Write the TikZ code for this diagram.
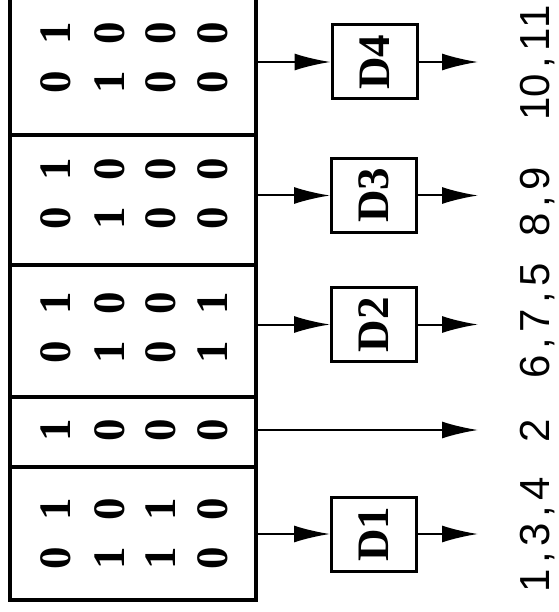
\documentclass[tikz,border=0pt]{standalone}
\usepackage{fontspec}
\usepackage{graphicx}
\setmainfont{Liberation Serif}
\newfontfamily\lblfont{Liberation Sans}
\usetikzlibrary{arrows.meta}
\begin{document}
\begin{tikzpicture}[x=1pt,y=-1pt,
 sect/.style={draw, line width=3.2pt, minimum width=246pt, inner sep=0pt},
 dbox/.style={draw, line width=3pt, minimum width=85pt, minimum height=74pt, inner sep=0pt, font=\bfseries\fontsize{45}{50}\selectfont},
 digits/.style={rotate=90, inner sep=0pt, font=\bfseries\fontsize{45}{50}\selectfont},
 lbl/.style={rotate=90, anchor=base, inner sep=0pt, font=\lblfont\fontsize{42}{46}\selectfont},
 arr/.style={line width=2pt, -{Latex[length=36pt,width=17pt]}}]
\useasboundingbox (0,0) rectangle (558,612);
\clip (0,0) rectangle (558,612);
% sections of the big rectangle
\node[sect, minimum height=145pt] (s4) at (133,62.5) {};
\node[sect, minimum height=130pt] (s3) at (133,200) {};
\node[sect, minimum height=132pt] (s2) at (133,331) {};
\node[sect, minimum height=70pt]  (s0) at (133,432) {};
\node[sect, minimum height=133pt] (s1) at (133,533.5) {};
% helpers
\newcommand{\dpair}[2]{\makebox[49pt]{#1}\makebox[49pt]{#2}}
\newcommand{\mc}[1]{\makebox[23pt]{#1}}
% section D4
\node[digits] (a41) at (56,57.5) {\dpair{0}{1}};
\node[digits] (a42) at (110,57.5) {\dpair{1}{0}};
\node[digits] (a43) at (161,57.5) {\dpair{0}{0}};
\node[digits] (a44) at (213,57.5) {\dpair{0}{0}};
% section D3
\node[digits] (a31) at (56,194) {\dpair{0}{1}};
\node[digits] (a32) at (110,194) {\dpair{1}{0}};
\node[digits] (a33) at (161,194) {\dpair{0}{0}};
\node[digits] (a34) at (213,194) {\dpair{0}{0}};
% section D2
\node[digits] (a21) at (56,328) {\dpair{0}{1}};
\node[digits] (a22) at (110,328) {\dpair{1}{0}};
\node[digits] (a23) at (161,328) {\dpair{0}{0}};
\node[digits] (a24) at (213,328) {\dpair{1}{1}};
% section 2
\node[digits] (a01) at (56,430) {1};
\node[digits] (a02) at (110,430) {0};
\node[digits] (a03) at (161,430) {0};
\node[digits] (a04) at (213,430) {0};
% section D1
\node[digits] (a11) at (56,534) {\dpair{0}{1}};
\node[digits] (a12) at (110,534) {\dpair{1}{0}};
\node[digits] (a13) at (161,534) {\dpair{1}{1}};
\node[digits] (a14) at (213,534) {\dpair{0}{0}};
% boxes
\node[dbox] (d4) at (374.5,62) {\rotatebox{90}{D4}};
\node[dbox] (d3) at (374,195.5) {\rotatebox{90}{D3}};
\node[dbox] (d2) at (374,324.5) {\rotatebox{90}{D2}};
\node[dbox] (d1) at (374,534) {\rotatebox{90}{D1}};
\coordinate (tipx) at (478,0);
% arrows
\draw[arr] (d4.west -| s4.east) -- (d4.west);
\draw[arr] (d3.west -| s3.east) -- (d3.west);
\draw[arr] (d2.west -| s2.east) -- (d2.west);
\draw[arr] (d1.west -| s1.east) -- (d1.west);
\draw[arr] (d4.east) -- (d4.east -| tipx);
\draw[arr] (d3.east) -- (d3.east -| tipx);
\draw[arr] (d2.east) -- (d2.east -| tipx);
\draw[arr] (d1.east) -- (d1.east -| tipx);
\draw[arr] (s0.east |- 0,430) -- (tipx |- 0,430);
% labels
\node[lbl] (l4) at (549,63) {\mc{1}\mc{0}\mc{,}\mc{1}\mc{1}};
\node[lbl] (l3) at (549,202) {\mc{8}\mc{,}\mc{9}};
\node[lbl] (l2) at (549,321) {\mc{6}\mc{,}\mc{7}\mc{,}\mc{5}};
\node[lbl] (l0) at (549,431) {\mc{2}};
\node[lbl] (l1) at (549,535) {\mc{1}\mc{,}\mc{3}\mc{,}\mc{4}};
\end{tikzpicture}
\end{document}
